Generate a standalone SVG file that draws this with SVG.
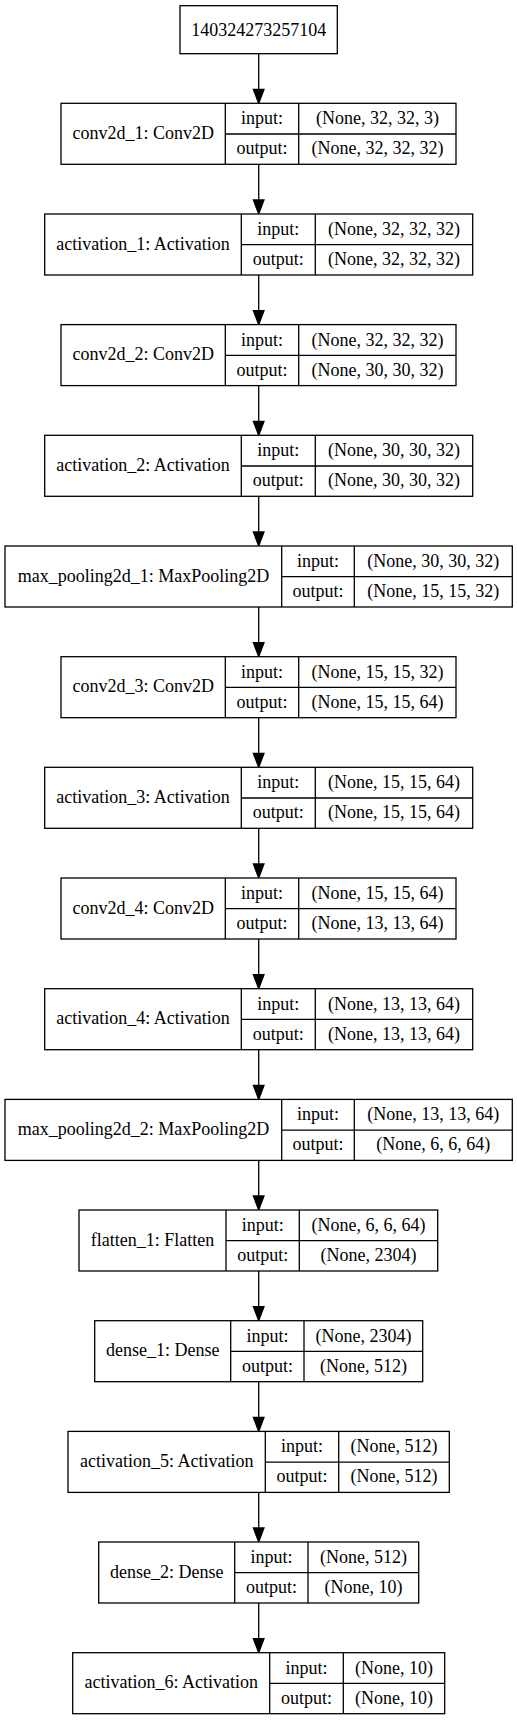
<svg xmlns="http://www.w3.org/2000/svg" width="517" height="1720" viewBox="0 0 517 1720">
<style>
rect{fill:#fff;stroke:#000;stroke-width:1.3}
.d{stroke:#000;stroke-width:1.3}
text{font-family:"Liberation Serif","Times New Roman",serif;font-size:18px;fill:#000;text-anchor:middle}
.e{stroke:#000;stroke-width:1.3;fill:none}
.h{fill:#000;stroke:#000;stroke-width:1.3}
</style>
<rect width="517" height="1720" style="stroke:none"/>
<g id="connectors">
<line class="e" x1="258.7" y1="53.7" x2="258.7" y2="89.3"/><polygon class="h" points="253.4,89.3 264,89.3 258.7,103.3"/>
<line class="e" x1="258.7" y1="164.3" x2="258.7" y2="200"/><polygon class="h" points="253.4,200 264,200 258.7,214"/>
<line class="e" x1="258.7" y1="275" x2="258.7" y2="310.6"/><polygon class="h" points="253.4,310.6 264,310.6 258.7,324.6"/>
<line class="e" x1="258.7" y1="385.6" x2="258.7" y2="421.3"/><polygon class="h" points="253.4,421.3 264,421.3 258.7,435.3"/>
<line class="e" x1="258.7" y1="496.3" x2="258.7" y2="532"/><polygon class="h" points="253.4,532 264,532 258.7,546"/>
<line class="e" x1="258.7" y1="607" x2="258.7" y2="642.7"/><polygon class="h" points="253.4,642.7 264,642.7 258.7,656.7"/>
<line class="e" x1="258.7" y1="717.7" x2="258.7" y2="753.3"/><polygon class="h" points="253.4,753.3 264,753.3 258.7,767.3"/>
<line class="e" x1="258.7" y1="828.3" x2="258.7" y2="864"/><polygon class="h" points="253.4,864 264,864 258.7,878"/>
<line class="e" x1="258.7" y1="939" x2="258.7" y2="974.7"/><polygon class="h" points="253.4,974.7 264,974.7 258.7,988.7"/>
<line class="e" x1="258.7" y1="1049.7" x2="258.7" y2="1085.4"/><polygon class="h" points="253.4,1085.4 264,1085.4 258.7,1099.4"/>
<line class="e" x1="258.7" y1="1160.4" x2="258.7" y2="1196"/><polygon class="h" points="253.4,1196 264,1196 258.7,1210"/>
<line class="e" x1="258.7" y1="1271" x2="258.7" y2="1306.7"/><polygon class="h" points="253.4,1306.7 264,1306.7 258.7,1320.7"/>
<line class="e" x1="258.7" y1="1381.7" x2="258.7" y2="1417.4"/><polygon class="h" points="253.4,1417.4 264,1417.4 258.7,1431.4"/>
<line class="e" x1="258.7" y1="1492.4" x2="258.7" y2="1528"/><polygon class="h" points="253.4,1528 264,1528 258.7,1542"/>
<line class="e" x1="258.7" y1="1603" x2="258.7" y2="1638.7"/><polygon class="h" points="253.4,1638.7 264,1638.7 258.7,1652.7"/>
</g>
<g id="input_node">
<rect x="180" y="5.7" width="157.3" height="48"/>
<text x="258.7" y="35.5">140324273257104</text>
</g>
<g id="conv2d_1" transform="translate(0,103.3)">
<rect x="61" y="0" width="395" height="61"/>
<line class="d" x1="225.3" y1="0" x2="225.3" y2="61"/><line class="d" x1="298.7" y1="0" x2="298.7" y2="61"/><line class="d" x1="225.3" y1="30.7" x2="456" y2="30.7"/>
<text x="143.2" y="35.5">conv2d_1: Conv2D</text><text x="262" y="21">input:</text><text x="262" y="51">output:</text>
<text x="377.4" y="21">(None, 32, 32, 3)</text><text x="377.4" y="51">(None, 32, 32, 32)</text>
</g>
<g id="activation_1" transform="translate(0,214)">
<rect x="44.7" y="0" width="428" height="61"/>
<line class="d" x1="241.3" y1="0" x2="241.3" y2="61"/><line class="d" x1="315.3" y1="0" x2="315.3" y2="61"/><line class="d" x1="241.3" y1="30.7" x2="472.7" y2="30.7"/>
<text x="143" y="35.5">activation_1: Activation</text><text x="278.3" y="21">input:</text><text x="278.3" y="51">output:</text>
<text x="394" y="21">(None, 32, 32, 32)</text><text x="394" y="51">(None, 32, 32, 32)</text>
</g>
<g id="conv2d_2" transform="translate(0,324.6)">
<rect x="61" y="0" width="395" height="61"/>
<line class="d" x1="225.3" y1="0" x2="225.3" y2="61"/><line class="d" x1="298.7" y1="0" x2="298.7" y2="61"/><line class="d" x1="225.3" y1="30.7" x2="456" y2="30.7"/>
<text x="143.2" y="35.5">conv2d_2: Conv2D</text><text x="262" y="21">input:</text><text x="262" y="51">output:</text>
<text x="377.4" y="21">(None, 32, 32, 32)</text><text x="377.4" y="51">(None, 30, 30, 32)</text>
</g>
<g id="activation_2" transform="translate(0,435.3)">
<rect x="44.7" y="0" width="428" height="61"/>
<line class="d" x1="241.3" y1="0" x2="241.3" y2="61"/><line class="d" x1="315.3" y1="0" x2="315.3" y2="61"/><line class="d" x1="241.3" y1="30.7" x2="472.7" y2="30.7"/>
<text x="143" y="35.5">activation_2: Activation</text><text x="278.3" y="21">input:</text><text x="278.3" y="51">output:</text>
<text x="394" y="21">(None, 30, 30, 32)</text><text x="394" y="51">(None, 30, 30, 32)</text>
</g>
<g id="max_pooling2d_1" transform="translate(0,546)">
<rect x="5" y="0" width="507.3" height="61"/>
<line class="d" x1="281.7" y1="0" x2="281.7" y2="61"/><line class="d" x1="354.3" y1="0" x2="354.3" y2="61"/><line class="d" x1="281.7" y1="30.7" x2="512.3" y2="30.7"/>
<text x="143.4" y="35.5">max_pooling2d_1: MaxPooling2D</text><text x="318" y="21">input:</text><text x="318" y="51">output:</text>
<text x="433.3" y="21">(None, 30, 30, 32)</text><text x="433.3" y="51">(None, 15, 15, 32)</text>
</g>
<g id="conv2d_3" transform="translate(0,656.7)">
<rect x="61" y="0" width="395" height="61"/>
<line class="d" x1="225.3" y1="0" x2="225.3" y2="61"/><line class="d" x1="298.7" y1="0" x2="298.7" y2="61"/><line class="d" x1="225.3" y1="30.7" x2="456" y2="30.7"/>
<text x="143.2" y="35.5">conv2d_3: Conv2D</text><text x="262" y="21">input:</text><text x="262" y="51">output:</text>
<text x="377.4" y="21">(None, 15, 15, 32)</text><text x="377.4" y="51">(None, 15, 15, 64)</text>
</g>
<g id="activation_3" transform="translate(0,767.3)">
<rect x="44.7" y="0" width="428" height="61"/>
<line class="d" x1="241.3" y1="0" x2="241.3" y2="61"/><line class="d" x1="315.3" y1="0" x2="315.3" y2="61"/><line class="d" x1="241.3" y1="30.7" x2="472.7" y2="30.7"/>
<text x="143" y="35.5">activation_3: Activation</text><text x="278.3" y="21">input:</text><text x="278.3" y="51">output:</text>
<text x="394" y="21">(None, 15, 15, 64)</text><text x="394" y="51">(None, 15, 15, 64)</text>
</g>
<g id="conv2d_4" transform="translate(0,878)">
<rect x="61" y="0" width="395" height="61"/>
<line class="d" x1="225.3" y1="0" x2="225.3" y2="61"/><line class="d" x1="298.7" y1="0" x2="298.7" y2="61"/><line class="d" x1="225.3" y1="30.7" x2="456" y2="30.7"/>
<text x="143.2" y="35.5">conv2d_4: Conv2D</text><text x="262" y="21">input:</text><text x="262" y="51">output:</text>
<text x="377.4" y="21">(None, 15, 15, 64)</text><text x="377.4" y="51">(None, 13, 13, 64)</text>
</g>
<g id="activation_4" transform="translate(0,988.7)">
<rect x="44.7" y="0" width="428" height="61"/>
<line class="d" x1="241.3" y1="0" x2="241.3" y2="61"/><line class="d" x1="315.3" y1="0" x2="315.3" y2="61"/><line class="d" x1="241.3" y1="30.7" x2="472.7" y2="30.7"/>
<text x="143" y="35.5">activation_4: Activation</text><text x="278.3" y="21">input:</text><text x="278.3" y="51">output:</text>
<text x="394" y="21">(None, 13, 13, 64)</text><text x="394" y="51">(None, 13, 13, 64)</text>
</g>
<g id="max_pooling2d_2" transform="translate(0,1099.4)">
<rect x="5" y="0" width="507.3" height="61"/>
<line class="d" x1="281.7" y1="0" x2="281.7" y2="61"/><line class="d" x1="354.3" y1="0" x2="354.3" y2="61"/><line class="d" x1="281.7" y1="30.7" x2="512.3" y2="30.7"/>
<text x="143.4" y="35.5">max_pooling2d_2: MaxPooling2D</text><text x="318" y="21">input:</text><text x="318" y="51">output:</text>
<text x="433.3" y="21">(None, 13, 13, 64)</text><text x="433.3" y="51">(None, 6, 6, 64)</text>
</g>
<g id="flatten_1" transform="translate(0,1210)">
<rect x="79" y="0" width="358.7" height="61"/>
<line class="d" x1="226" y1="0" x2="226" y2="61"/><line class="d" x1="299.3" y1="0" x2="299.3" y2="61"/><line class="d" x1="226" y1="30.7" x2="437.7" y2="30.7"/>
<text x="152.5" y="35.5">flatten_1: Flatten</text><text x="262.7" y="21">input:</text><text x="262.7" y="51">output:</text>
<text x="368.5" y="21">(None, 6, 6, 64)</text><text x="368.5" y="51">(None, 2304)</text>
</g>
<g id="dense_1" transform="translate(0,1320.7)">
<rect x="94.7" y="0" width="328" height="61"/>
<line class="d" x1="230.7" y1="0" x2="230.7" y2="61"/><line class="d" x1="304" y1="0" x2="304" y2="61"/><line class="d" x1="230.7" y1="30.7" x2="422.7" y2="30.7"/>
<text x="162.7" y="35.5">dense_1: Dense</text><text x="267.4" y="21">input:</text><text x="267.4" y="51">output:</text>
<text x="363.4" y="21">(None, 2304)</text><text x="363.4" y="51">(None, 512)</text>
</g>
<g id="activation_5" transform="translate(0,1431.4)">
<rect x="68" y="0" width="381.3" height="61"/>
<line class="d" x1="265.3" y1="0" x2="265.3" y2="61"/><line class="d" x1="338.7" y1="0" x2="338.7" y2="61"/><line class="d" x1="265.3" y1="30.7" x2="449.3" y2="30.7"/>
<text x="166.7" y="35.5">activation_5: Activation</text><text x="302" y="21">input:</text><text x="302" y="51">output:</text>
<text x="394" y="21">(None, 512)</text><text x="394" y="51">(None, 512)</text>
</g>
<g id="dense_2" transform="translate(0,1542)">
<rect x="98.7" y="0" width="320" height="61"/>
<line class="d" x1="234.7" y1="0" x2="234.7" y2="61"/><line class="d" x1="308" y1="0" x2="308" y2="61"/><line class="d" x1="234.7" y1="30.7" x2="418.7" y2="30.7"/>
<text x="166.7" y="35.5">dense_2: Dense</text><text x="271.4" y="21">input:</text><text x="271.4" y="51">output:</text>
<text x="363.4" y="21">(None, 512)</text><text x="363.4" y="51">(None, 10)</text>
</g>
<g id="activation_6" transform="translate(0,1652.7)">
<rect x="72.7" y="0" width="372" height="61"/>
<line class="d" x1="269.7" y1="0" x2="269.7" y2="61"/><line class="d" x1="343.3" y1="0" x2="343.3" y2="61"/><line class="d" x1="269.7" y1="30.7" x2="444.7" y2="30.7"/>
<text x="171.2" y="35.5">activation_6: Activation</text><text x="306.5" y="21">input:</text><text x="306.5" y="51">output:</text>
<text x="394" y="21">(None, 10)</text><text x="394" y="51">(None, 10)</text>
</g>
</svg>
